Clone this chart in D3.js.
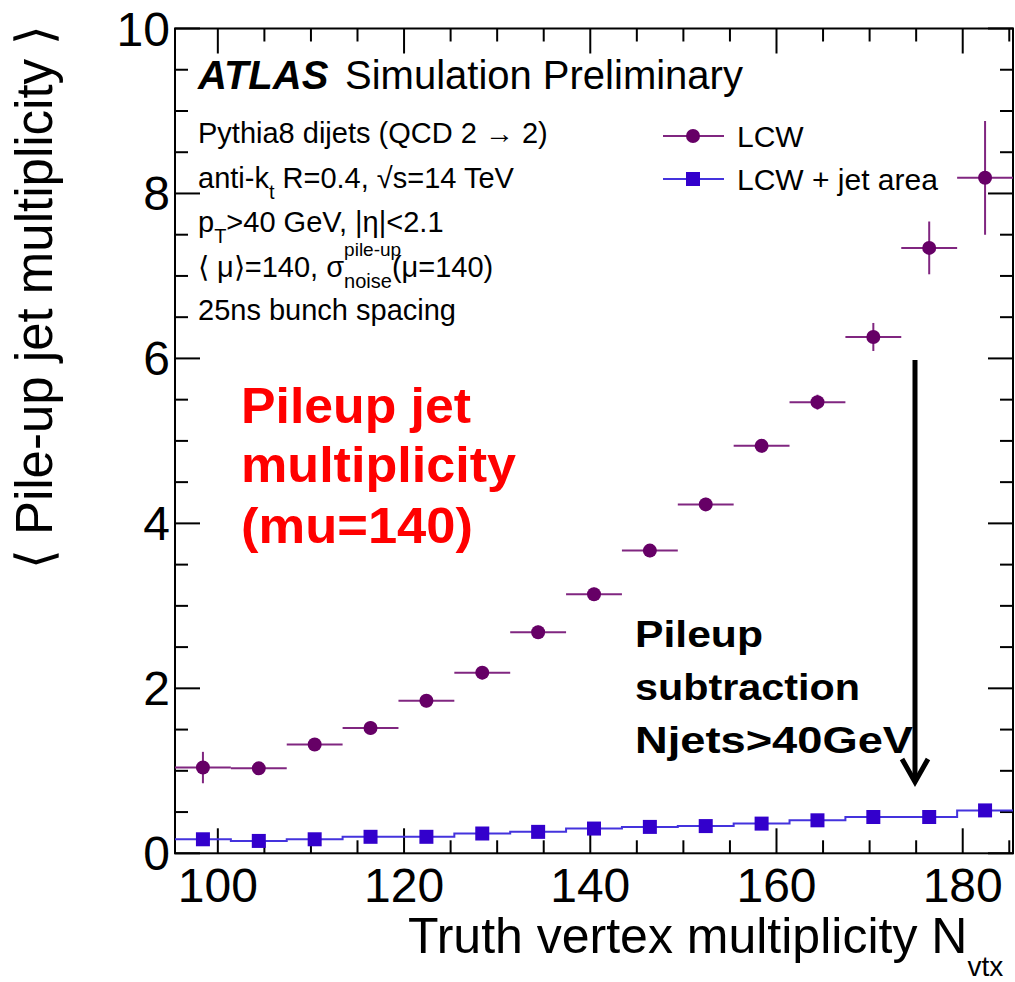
<!DOCTYPE html>
<html lang="en">
<head>
    <meta charset="UTF-8">
    <title>Pile-up jet multiplicity</title>
    <script type="text/javascript" src="https://cdn.jsdelivr.net/npm/d3@7"></script>
    <style>
        body { margin: 0; background: #ffffff; }
        text { font-family: "Liberation Sans", Arial, sans-serif; }
    </style>
</head>
<body>
	<script>
		// bin centres of truth vertex multiplicity
		var nvtx = [98.4, 104.4, 110.4, 116.4, 122.4, 128.4, 134.4, 140.4, 146.4, 152.4, 158.4, 164.4, 170.4, 176.4, 182.4];
		var binWidth = 6;
		// LCW
		var lcw = [1.04, 1.03, 1.32, 1.52, 1.85, 2.19, 2.68, 3.14, 3.67, 4.23, 4.94, 5.47, 6.26, 7.34, 8.19];
		var lcwErr = [0.19, 0.06, 0.07, 0.08, 0.08, 0.08, 0.08, 0.08, 0.08, 0.08, 0.08, 0.09, 0.17, 0.32, 0.69];
		// LCW + jet area
		var area = [0.17, 0.15, 0.17, 0.20, 0.20, 0.24, 0.26, 0.30, 0.32, 0.33, 0.36, 0.40, 0.44, 0.44, 0.52];

		var xTicks = [100, 120, 140, 160, 180];
		var yTicks = [0, 2, 4, 6, 8, 10];
		// _{..} subscript, ^{..} superscript
		var infoLines = ["Pythia8 dijets (QCD 2 \u2192 2)", "anti-k_{t} R=0.4, \u221As=14 TeV", "p_{T}>40 GeV, |\u03B7|<2.1",
			"\u27E8 \u03BC\u27E9=140, \u03C3^{pile-up}_{noise}(\u03BC=140)", "25ns bunch spacing"];
		var redLines = ["Pileup jet", "multiplicity", "(mu=140)"];
		var blackLines = ["Pileup", "subtraction", "Njets>40GeV"];

		var w = 1015, h = 982;
		var mLeft = 175, mRight = 1013, mTop = 28.5, mBottom = 853.3;

		var purple = "#660066";
		var purpleLine = "#802680";
		var blue = "#3300cc";
		var blueLine = "#4433dd";

		var svg = d3.select("body").append("svg")
			.attr("width", w)
			.attr("height", h);

		var x = d3.scaleLinear().domain([95.4, 185.4]).range([mLeft, mRight]);
		var y = d3.scaleLinear().domain([0, 10]).range([mBottom, mTop]);

		svg.append("clipPath").attr("id", "clip")
			.append("rect")
			.attr("x", mLeft).attr("y", mTop)
			.attr("width", mRight - mLeft).attr("height", mBottom - mTop);

		// frame + ticks (ROOT style, ticks inside on all four sides)
		var xMinor = d3.range(100, 186, 5);
		var yMinor = d3.range(0, 10.01, 0.5).map(function(d) { return Math.round(d * 10) / 10 });

		function tickLen(v, major) { return major.indexOf(v) >= 0 ? 25 : 13; }

		var ax = svg.append("g").attr("stroke", "#000").attr("stroke-width", 2);

		ax.selectAll("line.xb").data(xMinor).enter().append("line")
			.attr("x1", function(d) { return x(d) }).attr("x2", function(d) { return x(d) })
			.attr("y1", mBottom).attr("y2", function(d) { return mBottom - tickLen(d, xTicks) });
		ax.selectAll("line.xt").data(xMinor).enter().append("line")
			.attr("x1", function(d) { return x(d) }).attr("x2", function(d) { return x(d) })
			.attr("y1", mTop).attr("y2", function(d) { return mTop + tickLen(d, xTicks) });
		ax.selectAll("line.yl").data(yMinor).enter().append("line")
			.attr("y1", function(d) { return y(d) }).attr("y2", function(d) { return y(d) })
			.attr("x1", mLeft).attr("x2", function(d) { return mLeft + tickLen(d, yTicks) });
		ax.selectAll("line.yr").data(yMinor).enter().append("line")
			.attr("y1", function(d) { return y(d) }).attr("y2", function(d) { return y(d) })
			.attr("x1", mRight).attr("x2", function(d) { return mRight - tickLen(d, yTicks) });

		ax.append("rect")
			.attr("x", mLeft).attr("y", mTop)
			.attr("width", mRight - mLeft).attr("height", mBottom - mTop)
			.attr("fill", "none");

		// tick labels
		svg.selectAll("text.xl").data(xTicks).enter().append("text")
			.attr("x", function(d) { return x(d) })
			.attr("y", 902)
			.attr("text-anchor", "middle")
			.attr("font-size", 48)
			.text(function(d) { return d });

		svg.selectAll("text.yl").data(yTicks).enter().append("text")
			.attr("x", 170)
			.attr("y", function(d) { return y(d) + 17 })
			.attr("text-anchor", "end")
			.attr("font-size", 48)
			.text(function(d) { return d });

		// axis titles
		var xt = svg.append("text").attr("x", 408).attr("y", 953).attr("font-size", 50);
		xt.append("tspan").text("Truth vertex multiplicity N");
		xt.append("tspan").attr("dy", 23).attr("font-size", 28).text("vtx");

		svg.append("text")
			.attr("transform", "translate(52,297) rotate(-90)")
			.attr("text-anchor", "middle")
			.attr("font-size", 51)
			.text("\u27E8 Pile-up jet multiplicity \u27E9");

		var plot = svg.append("g").attr("clip-path", "url(#clip)");

		// LCW + jet area : histogram steps
		var edges = nvtx.map(function(d) { return d - binWidth / 2 });
		edges.push(nvtx[nvtx.length - 1] + binWidth / 2);
		var stepData = area.concat([area[area.length - 1]]);
		var step = d3.line()
			.x(function(d, i) { return x(edges[i]) })
			.y(function(d) { return y(d) })
			.curve(d3.curveStepAfter);
		plot.append("path")
			.attr("d", step(stepData))
			.attr("fill", "none")
			.attr("stroke", blueLine)
			.attr("stroke-width", 2);

		plot.selectAll("rect.area").data(area).enter().append("rect")
			.attr("x", function(d, i) { return x(nvtx[i]) - 7 })
			.attr("y", function(d) { return y(d) - 7 })
			.attr("width", 14).attr("height", 14)
			.attr("fill", blue);

		// LCW : error bars + circles
		plot.selectAll("line.lcwh").data(lcw).enter().append("line")
			.attr("x1", function(d, i) { return x(nvtx[i] - binWidth / 2) })
			.attr("x2", function(d, i) { return x(nvtx[i] + binWidth / 2) })
			.attr("y1", function(d) { return y(d) })
			.attr("y2", function(d) { return y(d) })
			.attr("stroke", purpleLine).attr("stroke-width", 2);
		plot.selectAll("line.lcwv").data(lcw).enter().append("line")
			.attr("x1", function(d, i) { return x(nvtx[i]) })
			.attr("x2", function(d, i) { return x(nvtx[i]) })
			.attr("y1", function(d, i) { return y(d - lcwErr[i]) })
			.attr("y2", function(d, i) { return y(d + lcwErr[i]) })
			.attr("stroke", purpleLine).attr("stroke-width", 2);
		plot.selectAll("circle.lcw").data(lcw).enter().append("circle")
			.attr("cx", function(d, i) { return x(nvtx[i]) })
			.attr("cy", function(d) { return y(d) })
			.attr("r", 7)
			.attr("fill", purple);

		// ATLAS label
		var atl = svg.append("text").attr("x", 198).attr("y", 89).attr("font-size", 40);
		atl.append("tspan").attr("font-weight", "bold").attr("font-style", "italic").text("ATLAS");
		atl.append("tspan").attr("x", 345).text("Simulation Preliminary");

		// info lines
		var infoY = [143, 188, 232, 277, 320];
		infoLines.forEach(function(s, k) {
			var t = svg.append("text").attr("x", 198).attr("y", infoY[k]).attr("font-size", 29);
			var parts = s.split(/(_\{[^}]*\}|\^\{[^}]*\})/);
			var shift = 0, lastSup = null;
			parts.forEach(function(p) {
				if (p === "") return;
				var ts = t.append("tspan");
				if (p[0] === "_") {
					ts.attr("font-size", 20).attr("dy", 11 - shift).text(p.slice(2, -1));
					if (lastSup) ts.attr("dx", -lastSup.node().getComputedTextLength());
					shift = 11;
					lastSup = null;
				} else if (p[0] === "^") {
					ts.attr("font-size", 19).attr("dy", -21 - shift).text(p.slice(2, -1));
					shift = -21;
					lastSup = ts;
				} else {
					ts.attr("dy", -shift).text(p);
					shift = 0;
					lastSup = null;
				}
			});
		});

		// legend
		var leg = svg.append("g");
		leg.append("line").attr("x1", 663).attr("x2", 724).attr("y1", 136).attr("y2", 136)
			.attr("stroke", purpleLine).attr("stroke-width", 2);
		leg.append("circle").attr("cx", 693).attr("cy", 136).attr("r", 7).attr("fill", purple);
		leg.append("text").attr("x", 737).attr("y", 147).attr("font-size", 30).text("LCW");
		leg.append("line").attr("x1", 663).attr("x2", 724).attr("y1", 179).attr("y2", 179)
			.attr("stroke", blueLine).attr("stroke-width", 2);
		leg.append("rect").attr("x", 686).attr("y", 172).attr("width", 14).attr("height", 14).attr("fill", blue);
		leg.append("text").attr("x", 737).attr("y", 190).attr("font-size", 30).text("LCW + jet area");

		// annotations
		var redY = [423, 482, 543];
		var redW = [230, 275, 232];
		svg.selectAll("text.red").data(redLines).enter().append("text")
			.attr("x", 241)
			.attr("y", function(d, i) { return redY[i] })
			.attr("font-size", 50)
			.attr("font-weight", "bold")
			.attr("fill", "#ff0000")
			.attr("textLength", function(d, i) { return redW[i] })
			.attr("lengthAdjust", "spacingAndGlyphs")
			.text(function(d) { return d });

		var blackY = [647, 700, 753];
		var blackW = [128, 225, 278];
		svg.selectAll("text.blk").data(blackLines).enter().append("text")
			.attr("x", 635)
			.attr("y", function(d, i) { return blackY[i] })
			.attr("font-size", 37)
			.attr("font-weight", "bold")
			.attr("fill", "#000")
			.attr("textLength", function(d, i) { return blackW[i] })
			.attr("lengthAdjust", "spacingAndGlyphs")
			.text(function(d) { return d });

		// arrow
		svg.append("line")
			.attr("x1", 915).attr("x2", 915)
			.attr("y1", 360).attr("y2", 782)
			.attr("stroke", "#000").attr("stroke-width", 5);
		svg.append("path")
			.attr("d", "M902,759 L915,782 L928,759")
			.attr("fill", "none")
			.attr("stroke", "#000").attr("stroke-width", 5);
	</script>
</body>
</html>
